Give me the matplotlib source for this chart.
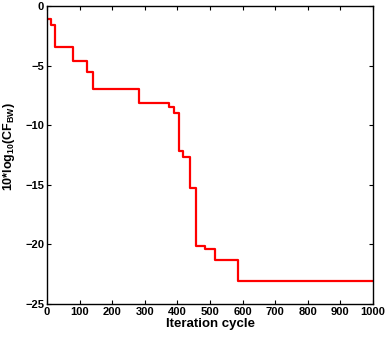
import matplotlib.pyplot as plt

plt.rcParams['font.family'] = ['Liberation Sans', 'DejaVu Sans']
plt.rcParams['font.weight'] = 'bold'
plt.rcParams['mathtext.fontset'] = 'custom'
plt.rcParams['mathtext.rm'] = 'Liberation Sans:bold'
plt.rcParams['mathtext.bf'] = 'Liberation Sans:bold'
plt.rcParams['mathtext.it'] = 'Liberation Sans:bold'

# iteration where the best value changes, and the value from there on
iters = [0, 12, 26, 81, 124, 140, 249, 282, 374, 390, 405, 418, 439, 456, 485, 514, 587, 1000]
cf_bw = [-1.1, -1.6, -3.4, -4.65, -5.5, -6.95, -7.0, -8.1, -8.5, -9.0, -12.2, -12.7,
         -15.3, -20.1, -20.4, -21.3, -23.1, -23.1]

fig = plt.figure(figsize=(3.88, 3.4), dpi=100)
ax = fig.add_axes([47/388, 1 - 304/340, 326/388, 298/340])
ax.step(iters, cf_bw, where='post', color='#ff0000', linewidth=1.6)

ax.set_xlim(0, 1000)
ax.set_ylim(-25, 0)
ax.set_xticks(range(0, 1001, 100))
ax.set_yticks([-25, -20, -15, -10, -5, 0])
ax.tick_params(direction='in', top=True, right=True, length=3, width=0.8, labelsize=8, pad=2)
for s in ax.spines.values():
    s.set_linewidth(1.0)

ax.set_xlabel('Iteration cycle', fontsize=9.5, fontweight='bold', labelpad=1)
ax.set_ylabel(r'10*log$_{10}$(CF$_{BW}$)', fontsize=9, fontweight='bold')
ax.yaxis.set_label_coords(-0.093, 0.53)

fig.savefig('out.png', dpi=100)
